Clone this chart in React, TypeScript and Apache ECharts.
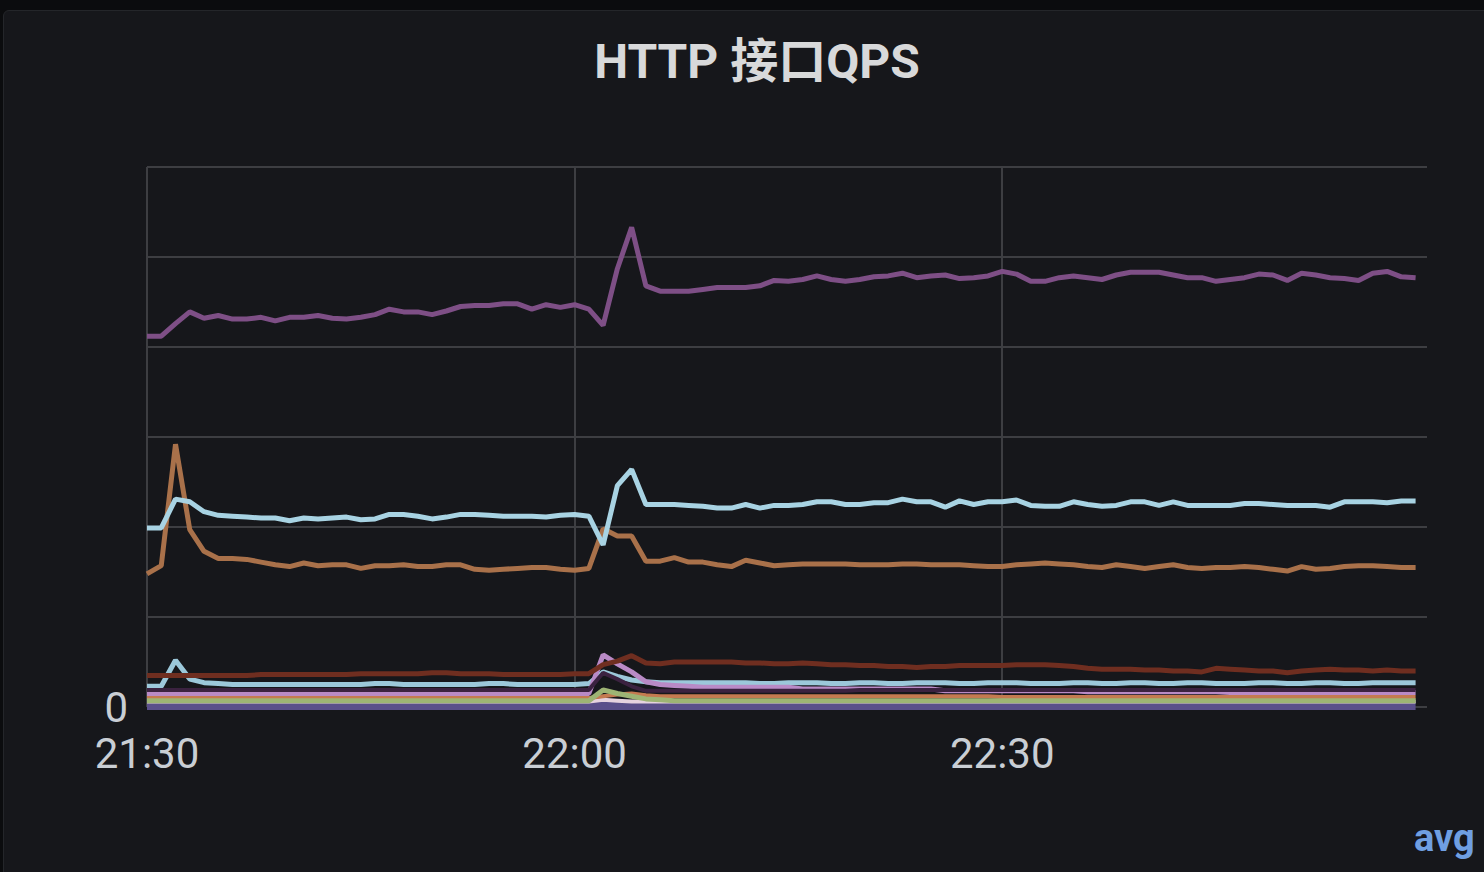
import React, { useEffect, useRef } from 'react';
import * as echarts from 'echarts';

// minutes after 21:30, one point per minute
const startLabelMinutes = 21 * 60 + 30;

const purple = [
  412, 412, 426, 439, 432, 435, 431, 431, 433, 429,
  433, 433, 435, 432, 431, 433, 436, 442, 439, 439,
  436, 440, 445, 446, 446, 448, 448, 442, 447, 444,
  447, 442, 424, 487, 533, 468, 462, 462, 462, 464,
  466, 466, 466, 468, 474, 473, 475, 479, 475, 473,
  475, 478, 479, 482, 477, 479, 480, 476, 477, 479,
  484, 481, 473, 473, 477, 479, 477, 475, 480, 483,
  483, 483, 480, 477, 477, 473, 475, 477, 481, 480,
  474, 482, 480, 477, 476, 474, 482, 484, 478, 477,
];

const lightBlue = [
  199, 199, 231, 228, 217, 213, 212, 211, 210, 210,
  207, 210, 209, 210, 211, 208, 209, 214, 214, 212,
  209, 211, 214, 214, 213, 212, 212, 212, 211, 213,
  214, 212, 180, 246, 264, 225, 225, 225, 224, 223,
  221, 221, 225, 221, 224, 224, 225, 228, 228, 225,
  225, 227, 227, 231, 228, 228, 222, 229, 225, 228,
  228, 230, 224, 223, 223, 228, 225, 223, 224, 228,
  228, 224, 228, 224, 224, 224, 224, 226, 226, 225,
  224, 224, 224, 222, 228, 228, 228, 227, 229, 229,
];

const orange = [
  148, 157, 292, 197, 173, 165, 165, 164, 161, 158,
  156, 160, 157, 158, 158, 154, 157, 157, 158, 156,
  156, 158, 158, 153, 152, 153, 154, 155, 155, 153,
  152, 154, 198, 190, 190, 162, 162, 166, 161, 161,
  158, 156, 163, 160, 157, 158, 159, 159, 159, 159,
  158, 158, 158, 159, 159, 158, 158, 158, 157, 156,
  156, 158, 159, 160, 159, 158, 156, 155, 158, 156,
  154, 156, 158, 155, 154, 155, 155, 156, 155, 153,
  151, 156, 153, 154, 156, 157, 157, 156, 155, 155,
];

const darkRed = [
  35, 35, 35, 35, 35, 35, 35, 35, 36, 36,
  36, 36, 36, 36, 36, 37, 37, 37, 37, 37,
  38, 38, 37, 37, 37, 36, 36, 36, 36, 36,
  37, 37, 47, 51, 57, 49, 48, 50, 50, 50,
  50, 50, 49, 49, 48, 48, 49, 48, 47, 47,
  46, 46, 45, 45, 44, 45, 45, 46, 46, 46,
  46, 47, 47, 47, 46, 45, 43, 42, 42, 42,
  41, 41, 40, 40, 39, 43, 42, 41, 40, 40,
  38, 40, 41, 42, 41, 41, 40, 41, 40, 40,
];

const smallBlue = [
  23, 23, 52, 31, 27, 26, 25, 25, 25, 25,
  25, 25, 25, 25, 25, 25, 26, 26, 25, 25,
  25, 25, 25, 25, 26, 26, 25, 25, 25, 25,
  25, 26, 39, 34, 30, 28, 27, 27, 27, 27,
  27, 27, 27, 26, 26, 27, 27, 27, 26, 26,
  27, 27, 26, 26, 27, 27, 27, 26, 26, 27,
  27, 27, 26, 26, 26, 27, 27, 26, 26, 27,
  27, 26, 26, 27, 27, 26, 26, 26, 27, 27,
  26, 26, 27, 27, 26, 26, 27, 27, 27, 27,
];

const lilac = [
  15, 15, 15, 15, 15, 15, 15, 15, 15, 15,
  15, 15, 15, 15, 15, 15, 15, 15, 15, 15,
  15, 15, 15, 15, 15, 15, 15, 15, 15, 15,
  15, 15, 58, 48, 39, 28, 25, 24, 23, 22,
  22, 22, 22, 22, 22, 22, 20, 20, 20, 20,
  20, 20, 20, 20, 20, 20, 18, 18, 18, 18,
  18, 18, 18, 18, 18, 18, 17, 17, 17, 17,
  17, 17, 17, 17, 17, 17, 16, 16, 16, 16,
  16, 16, 16, 16, 16, 16, 16, 16, 16, 16,
];

const darkPurple = [
  19, 19, 19, 19, 19, 19, 19, 19, 19, 19,
  19, 19, 19, 19, 19, 19, 19, 19, 19, 19,
  19, 19, 19, 19, 19, 19, 19, 19, 19, 19,
  19, 19, 38, 31, 23, 18, 18, 18, 18, 18,
  18, 18, 18, 18, 18, 18, 18, 18, 18, 18,
  19, 19, 19, 19, 19, 19, 19, 19, 19, 19,
  19, 19, 19, 19, 19, 19, 19, 19, 19, 19,
  19, 19, 19, 19, 19, 19, 19, 19, 19, 19,
  19, 19, 19, 19, 19, 19, 19, 19, 19, 19,
];

const green = [
  7, 7, 7, 7, 7, 7, 7, 7, 7, 7,
  7, 7, 7, 7, 7, 7, 7, 7, 7, 7,
  7, 7, 7, 7, 7, 7, 7, 7, 7, 7,
  7, 7, 19, 15, 12, 9, 8, 7, 7, 7,
  7, 7, 7, 7, 7, 7, 7, 7, 7, 7,
  7, 7, 7, 7, 7, 7, 7, 7, 7, 7,
  7, 7, 7, 7, 7, 7, 7, 7, 7, 7,
  7, 7, 7, 7, 7, 7, 7, 7, 7, 7,
  7, 7, 7, 7, 7, 7, 7, 7, 7, 7,
];

const smallOrange = [
  10, 10, 10, 10, 10, 10, 10, 10, 10, 10,
  10, 10, 10, 10, 10, 10, 10, 10, 10, 10,
  10, 10, 10, 10, 10, 10, 10, 10, 10, 10,
  10, 10, 12, 14, 15, 13, 12, 12, 12, 12,
  12, 12, 12, 12, 12, 12, 12, 12, 12, 12,
  12, 12, 12, 12, 12, 12, 12, 12, 12, 12,
  11, 11, 11, 11, 11, 11, 11, 11, 11, 11,
  11, 11, 11, 11, 11, 11, 11, 11, 11, 11,
  11, 11, 11, 11, 11, 11, 11, 11, 11, 11,
];

const whitePink = [
  6, 6, 6, 6, 6, 6, 6, 6, 6, 6,
  6, 6, 6, 6, 6, 6, 6, 6, 6, 6,
  6, 6, 6, 6, 6, 6, 6, 6, 6, 6,
  6, 6, 8, 7, 6, 6, 6, 6, 6, 6,
  6, 6, 6, 6, 6, 6, 6, 6, 6, 6,
  6, 6, 6, 6, 6, 6, 6, 6, 6, 6,
  6, 6, 6, 6, 6, 6, 6, 6, 6, 6,
  6, 6, 6, 6, 6, 6, 6, 6, 6, 6,
  6, 6, 6, 6, 6, 6, 6, 6, 6, 6,
];

const indigo = [
  1, 1, 1, 1, 1, 1, 1, 1, 1, 1,
  1, 1, 1, 1, 1, 1, 1, 1, 1, 1,
  1, 1, 1, 1, 1, 1, 1, 1, 1, 1,
  1, 1, 1, 1, 1, 1, 1, 1, 1, 1,
  1, 1, 1, 1, 1, 1, 1, 1, 1, 1,
  1, 1, 1, 1, 1, 1, 1, 1, 1, 1,
  1, 1, 1, 1, 1, 1, 1, 1, 1, 1,
  1, 1, 1, 1, 1, 1, 1, 1, 1, 1,
  1, 1, 1, 1, 1, 1, 1, 1, 1, 1,
];

const seriesDefs = [
  { name: 'indigo', data: indigo, color: '#5a4f8a', width: 8 },
  { name: 'whitePink', data: whitePink, color: '#e6d3df', width: 4 },
  { name: 'smallOrange', data: smallOrange, color: '#c47a50', width: 4 },
  { name: 'green', data: green, color: '#9db474', width: 5 },
  { name: 'smallBlue', data: smallBlue, color: '#9cc8da', width: 5 },
  { name: 'lilac', data: lilac, color: '#b98ac6', width: 5 },
  { name: 'darkPurple', data: darkPurple, color: '#3b2240', width: 4 },
  { name: 'darkRed', data: darkRed, color: '#6f2e20', width: 5 },
  { name: 'orange', data: orange, color: '#a9714a', width: 5 },
  { name: 'lightBlue', data: lightBlue, color: '#a8d3e3', width: 5 },
  { name: 'purple', data: purple, color: '#7e4f86', width: 5 },
];

const FONT = 'Roboto, Inter, "Noto Sans CJK SC", sans-serif';

function fmtMinutes(v: number): string {
  const t = startLabelMinutes + Math.round(v);
  const h = Math.floor(t / 60) % 24;
  const m = t % 60;
  return `${h}:${m < 10 ? '0' + m : m}`;
}

export default function App() {
  const ref = useRef<HTMLDivElement>(null);
  useEffect(() => {
    if (!ref.current) return;
    const chart = echarts.init(ref.current, undefined, { renderer: 'svg' });
    chart.setOption({
      animation: false,
      backgroundColor: 'transparent',
      grid: { left: 147, right: 57, top: 167, bottom: 165, containLabel: false, outerBoundsMode: 'none' },
      xAxis: {
        type: 'value',
        min: 0,
        max: 89.8,
        interval: 30,
        axisLine: { show: false },
        axisTick: { show: false },
        splitLine: { show: true, showMaxLine: false, lineStyle: { color: '#3d3e42', width: 2 } },
        axisLabel: {
          showMaxLabel: false,
          color: '#c9ced4',
          fontSize: 42,
          fontFamily: FONT,
          margin: 25,
          formatter: (v: number) => fmtMinutes(v),
        },
      },
      yAxis: {
        type: 'value',
        min: 0,
        max: 600,
        interval: 100,
        axisLine: { show: false },
        axisTick: { show: false },
        splitLine: { show: true, lineStyle: { color: '#3d3e42', width: 2 } },
        axisLabel: {
          color: '#c9ced4',
          fontSize: 42,
          fontFamily: FONT,
          margin: 19,
          padding: [0, 0, 4, 0],
          formatter: (v: number) => (v === 0 ? '0' : ''),
        },
      },
      graphic: [
        {
          type: 'text',
          x: 757,
          y: 61,
          style: {
            text: 'HTTP 接口QPS',
            fill: '#d8d9da',
            font: `bold 48px ${FONT}`,
            textAlign: 'center',
            textVerticalAlign: 'middle',
          },
        },
        {
          type: 'text',
          x: 1414,
          y: 838,
          style: {
            text: 'avg',
            fill: '#6f9fe2',
            font: `bold 38px ${FONT}`,
            textAlign: 'left',
            textVerticalAlign: 'middle',
          },
        },
      ],
      series: seriesDefs.map((s) => ({
        name: s.name,
        type: 'line',
        showSymbol: false,
        symbol: 'none',
        clip: false,
        data: s.data.map((v, i) => [i, v]),
        lineStyle: { color: s.color, width: s.width },
        itemStyle: { color: s.color },
      })),
    });
    return () => chart.dispose();
  }, []);

  return (
    <div style={{ position: 'fixed', left: 0, top: 0, width: 1484, height: 872, background: '#0b0c0e', overflow: 'hidden' }}>
      <div
        style={{
          position: 'absolute',
          left: 3,
          top: 10,
          width: 1520,
          height: 900,
          background: '#16171b',
          border: '1px solid #24262a',
          borderRadius: 6,
        }}
      />
      <div ref={ref} style={{ position: 'absolute', left: 0, top: 0, width: 1484, height: 872 }} />
    </div>
  );
}
